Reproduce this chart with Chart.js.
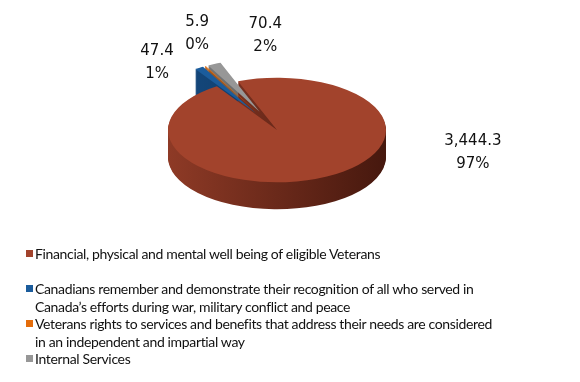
<!DOCTYPE html>
<html>
<head>
<meta charset="utf-8">
<script src="https://cdn.jsdelivr.net/npm/chart.js@4.4.0/dist/chart.umd.min.js"></script>
<style>
    html, body { margin: 0; padding: 0; background: #fff; }
    #quadro { position: relative; width: 580px; height: 382px; overflow: hidden; }
    #graficoPizza { position: absolute; left: 0; top: 0; }
    #legenda {
        position: absolute; left: 26px; top: 245px; width: 470px;
        font-family: Lato, "Open Sans", sans-serif; font-size: 14px; line-height: 17.5px;
        letter-spacing: -0.35px; color: #111;
    }
    #legenda .item { position: relative; padding-left: 9px; }
    #legenda .item:first-child { min-height: 35px; }
    #legenda .caixa { position: absolute; left: 0; top: 5px; width: 7px; height: 7px; }
</style>
</head>
<body>
<div id="quadro">
    <canvas id="graficoPizza" width="580" height="382"></canvas>
    <div id="legenda"></div>
</div>
<script>
// Dados do gráfico
const categorias = [
    'Financial, physical and mental well being of eligible Veterans',
    'Canadians remember and demonstrate their recognition of all who served in Canada\u2019s efforts during war, military conflict and peace',
    'Veterans rights to services and benefits that address their needs are considered in an independent and impartial way',
    'Internal Services'
];
const valores = [3444.3, 47.4, 5.9, 70.4];

// Cores (topo e lateral)
const cores = ['#A2432C', '#1B5C9C', '#E46C0A', '#979797'];
const coresLateral = [
    ['#8E3A26', '#46180E'],
    ['#154A80', '#0A2A4C'],
    ['#B85508', '#6A3004'],
    ['#7E7E7E', '#4A4A4A']
];

// Efeito 3D
const achatamento = 0.48;
const profundidade = 27;
const explosao = [0, 42, 42, 42];
const ajusteRotulo = [[146, -24], [-42, -5], [-8, -33], [51, -28]];

const total = valores.reduce((a, b) => a + b, 0);

function centro(chart) {
    const area = chart.chartArea;
    return { x: (area.left + area.right) / 2, y: (area.top + area.bottom) / 2 };
}

// desloca (ou devolve) as fatias destacadas
function explodir(arcos, sinal) {
    arcos.forEach(function (arco, i) {
        const meio = (arco.startAngle + arco.endAngle) / 2;
        arco.x += sinal * Math.cos(meio) * explosao[i];
        arco.y += sinal * Math.sin(meio) * explosao[i];
    });
}

const pizza3d = {
    id: 'pizza3d',
    beforeDatasetsDraw(chart) {
        const ctx = chart.ctx;
        const c = centro(chart);
        const arcos = chart.getDatasetMeta(0).data;
        const R = arcos[0].outerRadius;
        explodir(arcos, 1);
        ctx.save();
        ctx.translate(0, c.y);
        ctx.scale(1, achatamento);
        ctx.translate(0, -c.y);

        // fatias de trás primeiro
        const ordem = arcos.map(function (a, i) { return i; }).sort(function (a, b) {
            const ma = (arcos[a].startAngle + arcos[a].endAngle) / 2;
            const mb = (arcos[b].startAngle + arcos[b].endAngle) / 2;
            return (arcos[a].y + Math.sin(ma) * R / 2) - (arcos[b].y + Math.sin(mb) * R / 2);
        });
        ordem.forEach(function (i) {
            const arco = arcos[i];
            const grad = ctx.createLinearGradient(c.x - R, 0, c.x + R, 0);
            grad.addColorStop(0, coresLateral[i][0]);
            grad.addColorStop(1, coresLateral[i][1]);
            ctx.fillStyle = grad;
            for (let d = profundidade; d > 0; d--) {
                const dy = d / achatamento;
                ctx.beginPath();
                ctx.moveTo(arco.x, arco.y + dy);
                ctx.arc(arco.x, arco.y + dy, arco.outerRadius, arco.startAngle, arco.endAngle);
                ctx.closePath();
                ctx.fill();
            }
        });
    },
    afterDatasetsDraw(chart) {
        const ctx = chart.ctx;
        ctx.restore();
        const c = centro(chart);
        const arcos = chart.getDatasetMeta(0).data;
        ctx.save();
        ctx.font = '15px "DejaVu Sans"';
        ctx.fillStyle = '#111';
        ctx.textAlign = 'center';
        ctx.textBaseline = 'middle';
        arcos.forEach(function (arco, i) {
            const meio = (arco.startAngle + arco.endAngle) / 2;
            const px = arco.x + Math.cos(meio) * arco.outerRadius + ajusteRotulo[i][0];
            const py = c.y + (arco.y + Math.sin(meio) * arco.outerRadius - c.y) * achatamento + ajusteRotulo[i][1];
            const texto = valores[i].toLocaleString('en-US', { minimumFractionDigits: 1 });
            const pct = Math.round(valores[i] / total * 100) + '%';
            ctx.fillText(texto, px, py - 11.5);
            ctx.fillText(pct, px, py + 11.5);
        });
        ctx.restore();
        explodir(arcos, -1);
    }
};

const config = {
    type: 'pie',
    data: {
        labels: categorias,
        datasets: [{
            data: valores,
            backgroundColor: cores,
            borderWidth: 0,
            clip: false
        }]
    },
    options: {
        responsive: false,
        animation: false,
        rotation: -21,
        radius: 109,
        layout: { padding: { left: 0, right: 26, top: 0, bottom: 122 } },
        plugins: {
            legend: { display: false },
            title: { display: false },
            tooltip: { enabled: false }
        }
    },
    plugins: [pizza3d]
};

new Chart(document.getElementById('graficoPizza'), config);

// Legenda
const legenda = document.getElementById('legenda');
categorias.forEach(function (nome, i) {
    const item = document.createElement('div');
    item.className = 'item';
    const caixa = document.createElement('span');
    caixa.className = 'caixa';
    caixa.style.background = cores[i];
    item.appendChild(caixa);
    item.appendChild(document.createTextNode(nome));
    legenda.appendChild(item);
});
</script>
</body>
</html>
